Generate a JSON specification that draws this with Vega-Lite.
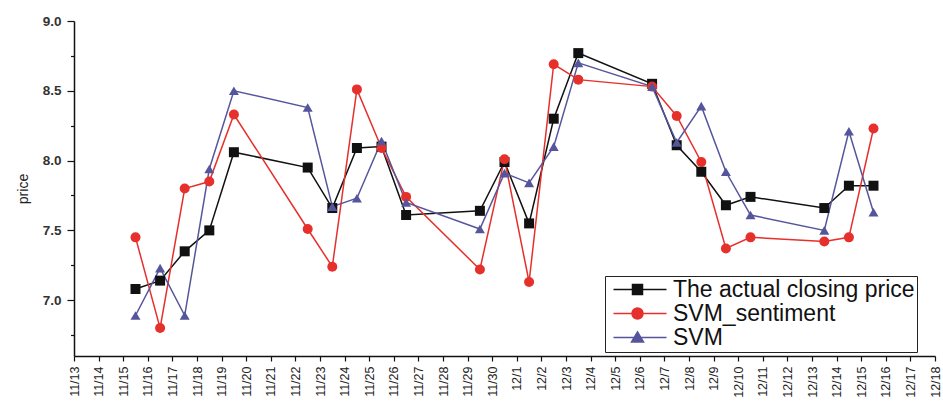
{
  "$schema": "https://vega.github.io/schema/vega-lite/v6.json",
  "width": 861,
  "height": 335,
  "autosize": {"type": "none"},
  "padding": {"left": 74, "top": 21, "right": 8, "bottom": 49},
  "background": "white",
  "config": {
    "view": {"stroke": null},
    "font": "Liberation Sans",
    "axis": {"grid": false, "domainColor": "#111", "tickColor": "#111", "labelColor": "#222", "titleColor": "#222", "domainWidth": 1.5, "tickWidth": 1.2}
  },
  "data": {"values": [
    {"date": "2013-11-15T12:00:00Z", "series": "The actual closing price", "price": 7.08},
    {"date": "2013-11-16T12:00:00Z", "series": "The actual closing price", "price": 7.14},
    {"date": "2013-11-17T12:00:00Z", "series": "The actual closing price", "price": 7.35},
    {"date": "2013-11-18T12:00:00Z", "series": "The actual closing price", "price": 7.50},
    {"date": "2013-11-19T12:00:00Z", "series": "The actual closing price", "price": 8.06},
    {"date": "2013-11-22T12:00:00Z", "series": "The actual closing price", "price": 7.95},
    {"date": "2013-11-23T12:00:00Z", "series": "The actual closing price", "price": 7.66},
    {"date": "2013-11-24T12:00:00Z", "series": "The actual closing price", "price": 8.09},
    {"date": "2013-11-25T12:00:00Z", "series": "The actual closing price", "price": 8.10},
    {"date": "2013-11-26T12:00:00Z", "series": "The actual closing price", "price": 7.61},
    {"date": "2013-11-29T12:00:00Z", "series": "The actual closing price", "price": 7.64},
    {"date": "2013-11-30T12:00:00Z", "series": "The actual closing price", "price": 7.99},
    {"date": "2013-12-01T12:00:00Z", "series": "The actual closing price", "price": 7.55},
    {"date": "2013-12-02T12:00:00Z", "series": "The actual closing price", "price": 8.30},
    {"date": "2013-12-03T12:00:00Z", "series": "The actual closing price", "price": 8.77},
    {"date": "2013-12-06T12:00:00Z", "series": "The actual closing price", "price": 8.55},
    {"date": "2013-12-07T12:00:00Z", "series": "The actual closing price", "price": 8.11},
    {"date": "2013-12-08T12:00:00Z", "series": "The actual closing price", "price": 7.92},
    {"date": "2013-12-09T12:00:00Z", "series": "The actual closing price", "price": 7.68},
    {"date": "2013-12-10T12:00:00Z", "series": "The actual closing price", "price": 7.74},
    {"date": "2013-12-13T12:00:00Z", "series": "The actual closing price", "price": 7.66},
    {"date": "2013-12-14T12:00:00Z", "series": "The actual closing price", "price": 7.82},
    {"date": "2013-12-15T12:00:00Z", "series": "The actual closing price", "price": 7.82},
    {"date": "2013-11-15T12:00:00Z", "series": "SVM_sentiment", "price": 7.45},
    {"date": "2013-11-16T12:00:00Z", "series": "SVM_sentiment", "price": 6.80},
    {"date": "2013-11-17T12:00:00Z", "series": "SVM_sentiment", "price": 7.80},
    {"date": "2013-11-18T12:00:00Z", "series": "SVM_sentiment", "price": 7.85},
    {"date": "2013-11-19T12:00:00Z", "series": "SVM_sentiment", "price": 8.33},
    {"date": "2013-11-22T12:00:00Z", "series": "SVM_sentiment", "price": 7.51},
    {"date": "2013-11-23T12:00:00Z", "series": "SVM_sentiment", "price": 7.24},
    {"date": "2013-11-24T12:00:00Z", "series": "SVM_sentiment", "price": 8.51},
    {"date": "2013-11-25T12:00:00Z", "series": "SVM_sentiment", "price": 8.09},
    {"date": "2013-11-26T12:00:00Z", "series": "SVM_sentiment", "price": 7.74},
    {"date": "2013-11-29T12:00:00Z", "series": "SVM_sentiment", "price": 7.22},
    {"date": "2013-11-30T12:00:00Z", "series": "SVM_sentiment", "price": 8.01},
    {"date": "2013-12-01T12:00:00Z", "series": "SVM_sentiment", "price": 7.13},
    {"date": "2013-12-02T12:00:00Z", "series": "SVM_sentiment", "price": 8.69},
    {"date": "2013-12-03T12:00:00Z", "series": "SVM_sentiment", "price": 8.58},
    {"date": "2013-12-06T12:00:00Z", "series": "SVM_sentiment", "price": 8.53},
    {"date": "2013-12-07T12:00:00Z", "series": "SVM_sentiment", "price": 8.32},
    {"date": "2013-12-08T12:00:00Z", "series": "SVM_sentiment", "price": 7.99},
    {"date": "2013-12-09T12:00:00Z", "series": "SVM_sentiment", "price": 7.37},
    {"date": "2013-12-10T12:00:00Z", "series": "SVM_sentiment", "price": 7.45},
    {"date": "2013-12-13T12:00:00Z", "series": "SVM_sentiment", "price": 7.42},
    {"date": "2013-12-14T12:00:00Z", "series": "SVM_sentiment", "price": 7.45},
    {"date": "2013-12-15T12:00:00Z", "series": "SVM_sentiment", "price": 8.23},
    {"date": "2013-11-15T12:00:00Z", "series": "SVM", "price": 6.89},
    {"date": "2013-11-16T12:00:00Z", "series": "SVM", "price": 7.23},
    {"date": "2013-11-17T12:00:00Z", "series": "SVM", "price": 6.89},
    {"date": "2013-11-18T12:00:00Z", "series": "SVM", "price": 7.94},
    {"date": "2013-11-19T12:00:00Z", "series": "SVM", "price": 8.50},
    {"date": "2013-11-22T12:00:00Z", "series": "SVM", "price": 8.38},
    {"date": "2013-11-23T12:00:00Z", "series": "SVM", "price": 7.67},
    {"date": "2013-11-24T12:00:00Z", "series": "SVM", "price": 7.73},
    {"date": "2013-11-25T12:00:00Z", "series": "SVM", "price": 8.14},
    {"date": "2013-11-26T12:00:00Z", "series": "SVM", "price": 7.70},
    {"date": "2013-11-29T12:00:00Z", "series": "SVM", "price": 7.51},
    {"date": "2013-11-30T12:00:00Z", "series": "SVM", "price": 7.91},
    {"date": "2013-12-01T12:00:00Z", "series": "SVM", "price": 7.84},
    {"date": "2013-12-02T12:00:00Z", "series": "SVM", "price": 8.10},
    {"date": "2013-12-03T12:00:00Z", "series": "SVM", "price": 8.70},
    {"date": "2013-12-06T12:00:00Z", "series": "SVM", "price": 8.53},
    {"date": "2013-12-07T12:00:00Z", "series": "SVM", "price": 8.13},
    {"date": "2013-12-08T12:00:00Z", "series": "SVM", "price": 8.39},
    {"date": "2013-12-09T12:00:00Z", "series": "SVM", "price": 7.92},
    {"date": "2013-12-10T12:00:00Z", "series": "SVM", "price": 7.61},
    {"date": "2013-12-13T12:00:00Z", "series": "SVM", "price": 7.50},
    {"date": "2013-12-14T12:00:00Z", "series": "SVM", "price": 8.21},
    {"date": "2013-12-15T12:00:00Z", "series": "SVM", "price": 7.63}
  ]},
  "encoding": {
    "x": {
      "field": "date", "type": "temporal",
      "scale": {"type": "utc", "domain": ["2013-11-13T00:00:00Z", "2013-12-18T00:00:00Z"], "nice": false},
      "axis": {"title": null, "labelExpr": "utcFormat(datum.value, '%-m/%-d')", "tickCount": {"interval": "day", "step": 1}, "labelAngle": -90, "labelFontSize": 12.5, "tickSize": 5, "labelPadding": 5, "labelOverlap": false, "labelFlush": false}
    },
    "y": {
      "field": "price", "type": "quantitative",
      "scale": {"domain": [6.6, 9.0], "nice": false, "zero": false},
      "axis": {
        "title": "price", "titleFontSize": 14, "titleFontWeight": "normal", "titlePadding": 12,
        "values": [6.75, 7, 7.25, 7.5, 7.75, 8, 8.25, 8.5, 8.75, 9],
        "labelExpr": "(datum.value * 4) % 2 == 0 ? format(datum.value, '.1f') : ''",
        "tickSize": {"condition": {"test": "(datum.value * 4) % 2 != 0", "value": 3.5}, "value": 7},
        "labelFontSize": 13.5, "labelFontWeight": "bold", "labelPadding": 6, "labelColor": "#333"
      }
    },
    "color": {
      "field": "series", "type": "nominal",
      "scale": {"domain": ["The actual closing price", "SVM_sentiment", "SVM"], "range": ["#111111", "#e5302c", "#55559c"]},
      "legend": {
        "title": null, "orient": "none", "legendX": 531, "legendY": 255,
        "labelFontSize": 23, "labelColor": "#111", "labelLimit": 400,
        "strokeColor": "#222", "fillColor": "white", "padding": 2,
        "rowPadding": -1, "labelOffset": 43, "symbolSize": 400, "symbolStrokeWidth": 1.5,
        "encode": {
          "symbols": {"update": {
            "shape": {"signal": "datum.value === 'SVM' ? 'M-0.5,0H4.8M1.9,-0.55L2.5,0.45H1.3Z' : datum.value === 'SVM_sentiment' ? 'M-0.5,0H4.8M1.35,0A0.55,0.55 0 1,0 2.45,0A0.55,0.55 0 1,0 1.35,0Z' : 'M-0.5,0H4.8M1.4,-0.5H2.4V0.5H1.4Z'"},
            "fill": {"scale": "color", "field": "value"},
            "stroke": {"scale": "color", "field": "value"},
            "strokeWidth": {"value": 1.5},
            "opacity": {"value": 1}
          }}
        }
      }
    }
  },
  "layer": [
    {"mark": {"type": "line", "strokeWidth": 1.5}},
    {
      "mark": {"type": "point", "filled": true, "opacity": 1, "size": 100},
      "encoding": {
        "shape": {
          "condition": [
            {"test": "datum.series === 'SVM'", "value": "triangle-up"},
            {"test": "datum.series === 'SVM_sentiment'", "value": "circle"}
          ],
          "value": "square"
        }
      }
    }
  ]
}
